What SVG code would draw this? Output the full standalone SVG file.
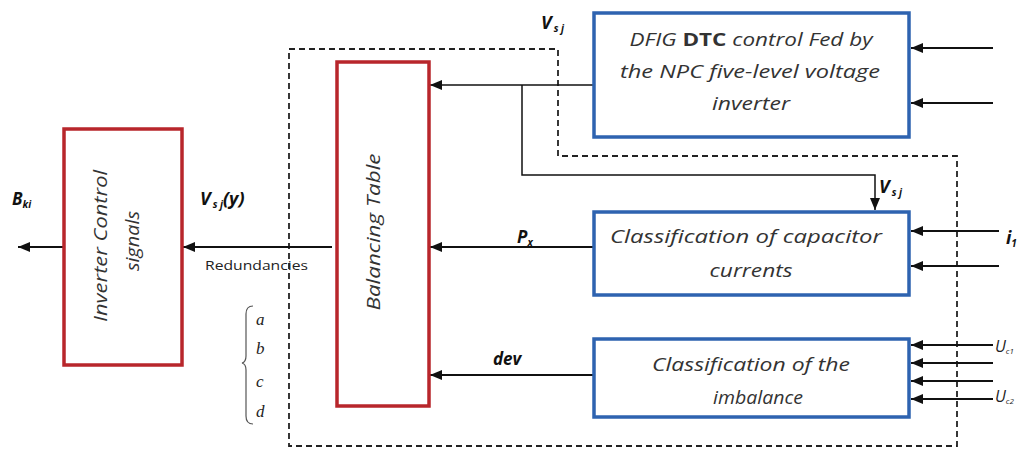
<svg xmlns="http://www.w3.org/2000/svg" width="1021" height="449" viewBox="0 0 1021 449">
<style>
.blue{fill:#fff;stroke:#2E63B0;stroke-width:3.5}
.red{fill:#fff;stroke:#B8262B;stroke-width:3.5}
.t{font-family:"Open Sans","Liberation Sans",sans-serif;font-style:italic;font-size:18px;fill:#333;text-anchor:middle}
.lb{font-family:"Open Sans","Liberation Sans",sans-serif;font-style:italic;font-weight:bold;font-size:17px;fill:#111}
.big{font-size:18px}
.uc{font-family:"Open Sans","Liberation Sans",sans-serif;font-style:italic;font-size:16px;fill:#222}
.sub{font-size:10px}
.w{fill:none;stroke:#111;stroke-width:2}
.thin{fill:none;stroke:#111;stroke-width:1.5}
.dash{fill:none;stroke:#222;stroke-width:1.8;stroke-dasharray:6 4}
.ser{font-family:"Liberation Serif",serif;font-style:italic;font-size:17px;fill:#222}
</style>
<defs>
<marker id="ah" viewBox="0 0 12 10" refX="12" refY="5" markerWidth="12" markerHeight="10" markerUnits="userSpaceOnUse" orient="auto">
<path d="M0,0 L12,5 L0,10 z" fill="#111"/>
</marker>
</defs>

<polygon id="boundary" class="dash" points="289,49 558,49 558,156 957,156 957,446 289,446"/>

<g id="connectors">
<line class="thin" x1="593" y1="85" x2="430" y2="85" marker-end="url(#ah)"/>
<polyline class="thin" points="522,85 522,175 875,175 875,210" marker-end="url(#ah)"/>
<line class="w" x1="593" y1="247" x2="430" y2="247" marker-end="url(#ah)"/>
<line class="w" x1="593" y1="375" x2="430" y2="375" marker-end="url(#ah)"/>
<line class="w" x1="332" y1="247" x2="183" y2="247" marker-end="url(#ah)"/>
<line class="w" x1="63" y1="247" x2="18" y2="247" marker-end="url(#ah)"/>
<line class="w" x1="993" y1="48" x2="911" y2="48" marker-end="url(#ah)"/>
<line class="w" x1="993" y1="103" x2="911" y2="103" marker-end="url(#ah)"/>
<line class="w" x1="999" y1="231" x2="911" y2="231" marker-end="url(#ah)"/>
<line class="w" x1="999" y1="266" x2="911" y2="266" marker-end="url(#ah)"/>
<line class="w" x1="993" y1="345" x2="911" y2="345" marker-end="url(#ah)"/>
<line class="w" x1="993" y1="363" x2="911" y2="363" marker-end="url(#ah)"/>
<line class="w" x1="993" y1="381" x2="911" y2="381" marker-end="url(#ah)"/>
<line class="w" x1="993" y1="399" x2="911" y2="399" marker-end="url(#ah)"/>
</g>

<g id="dfig">
<rect class="blue" x="594" y="13" width="315" height="124"/>
<text class="t" x="751" y="46" textLength="243" lengthAdjust="spacingAndGlyphs">DFIG <tspan font-weight="bold" font-style="normal">DTC</tspan> control Fed by</text>
<text class="t" x="750" y="78" textLength="260" lengthAdjust="spacingAndGlyphs">the NPC five-level voltage</text>
<text class="t" x="751" y="110" textLength="78" lengthAdjust="spacingAndGlyphs">inverter</text>
</g>

<g id="capacitor">
<rect class="blue" x="594" y="212" width="315" height="83"/>
<text class="t" x="746" y="243" textLength="272" lengthAdjust="spacingAndGlyphs">Classification of capacitor</text>
<text class="t" x="751" y="277" textLength="83" lengthAdjust="spacingAndGlyphs">currents</text>
</g>

<g id="imbalance">
<rect class="blue" x="594" y="339" width="315" height="78"/>
<text class="t" x="751" y="371" textLength="198" lengthAdjust="spacingAndGlyphs">Classification of the</text>
<text class="t" x="758" y="404" textLength="90" lengthAdjust="spacingAndGlyphs">imbalance</text>
</g>

<g id="balancing">
<rect class="red" x="337" y="62" width="92" height="344"/>
<text class="t" transform="translate(380,232) rotate(-90)" x="0" y="0" textLength="157" lengthAdjust="spacingAndGlyphs">Balancing Table</text>
</g>

<g id="inverter">
<rect class="red" x="64" y="129" width="118" height="236"/>
<text class="t" transform="translate(107,246) rotate(-90)" x="0" y="0" textLength="152" lengthAdjust="spacingAndGlyphs">Inverter Control</text>
<text class="t" transform="translate(139,241) rotate(-90)" x="0" y="0" textLength="60" lengthAdjust="spacingAndGlyphs">signals</text>
</g>

<g id="labels">
<text class="lb big" x="541" y="29">V<tspan class="sub" dx="2" dy="3">s j</tspan></text>
<text class="lb big" x="879" y="193">V<tspan class="sub" dx="2" dy="3">s j</tspan></text>
<text class="lb" x="517" y="243">P<tspan class="sub" dy="3">x</tspan></text>
<text class="lb" x="493" y="365">dev</text>
<text class="lb big" x="200" y="205">V<tspan class="sub" dx="2" dy="3">s j</tspan><tspan dy="-3">(y)</tspan></text>
<text class="lb" x="12" y="205">B<tspan class="sub" dy="3">ki</tspan></text>
<text class="lb big" x="1006" y="244">i<tspan class="sub" dy="3">1</tspan></text>
<text class="uc" x="995" y="352">U<tspan font-size="8" dy="2">c1</tspan></text>
<text class="uc" x="995" y="402">U<tspan font-size="8" dy="2">c2</tspan></text>
<text x="205" y="270" font-family="'Open Sans','Liberation Sans',sans-serif" font-size="13" fill="#222" textLength="103" lengthAdjust="spacingAndGlyphs">Redundancies</text>
<path d="M253,306 Q246,306 246,314 L246,356 Q246,362 242,363 Q246,364 246,370 L246,416 Q246,424 253,424" fill="none" stroke="#555" stroke-width="1.2"/>
<text class="ser" x="256" y="325">a</text>
<text class="ser" x="256" y="354">b</text>
<text class="ser" x="256" y="387">c</text>
<text class="ser" x="256" y="417">d</text>
</g>
</svg>
